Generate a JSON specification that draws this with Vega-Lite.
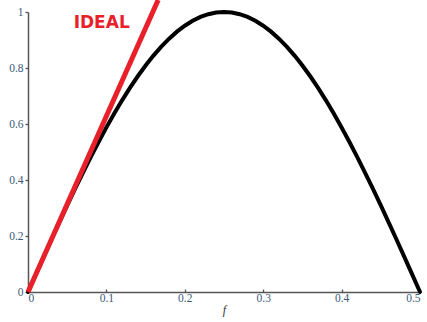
{
  "$schema": "https://vega.github.io/schema/vega-lite/v6.json",
  "width": 392,
  "height": 280,
  "autosize": "none",
  "padding": {"left": 28, "top": 12, "right": 7, "bottom": 30},
  "background": "white",
  "config": {"view": {"stroke": null}},
  "datasets": {
    "curve": [
      {"f": 0.00, "y": 0.0}, {"f": 0.01, "y": 0.0628}, {"f": 0.02, "y": 0.1253}, {"f": 0.03, "y": 0.1874},
      {"f": 0.04, "y": 0.2487}, {"f": 0.05, "y": 0.3090}, {"f": 0.06, "y": 0.3681}, {"f": 0.07, "y": 0.4258},
      {"f": 0.08, "y": 0.4818}, {"f": 0.09, "y": 0.5358}, {"f": 0.10, "y": 0.5878}, {"f": 0.11, "y": 0.6374},
      {"f": 0.12, "y": 0.6845}, {"f": 0.13, "y": 0.7290}, {"f": 0.14, "y": 0.7705}, {"f": 0.15, "y": 0.8090},
      {"f": 0.16, "y": 0.8443}, {"f": 0.17, "y": 0.8763}, {"f": 0.18, "y": 0.9048}, {"f": 0.19, "y": 0.9298},
      {"f": 0.20, "y": 0.9511}, {"f": 0.21, "y": 0.9686}, {"f": 0.22, "y": 0.9823}, {"f": 0.23, "y": 0.9921},
      {"f": 0.24, "y": 0.9980}, {"f": 0.25, "y": 1.0}, {"f": 0.26, "y": 0.9980}, {"f": 0.27, "y": 0.9921},
      {"f": 0.28, "y": 0.9823}, {"f": 0.29, "y": 0.9686}, {"f": 0.30, "y": 0.9511}, {"f": 0.31, "y": 0.9298},
      {"f": 0.32, "y": 0.9048}, {"f": 0.33, "y": 0.8763}, {"f": 0.34, "y": 0.8443}, {"f": 0.35, "y": 0.8090},
      {"f": 0.36, "y": 0.7705}, {"f": 0.37, "y": 0.7290}, {"f": 0.38, "y": 0.6845}, {"f": 0.39, "y": 0.6374},
      {"f": 0.40, "y": 0.5878}, {"f": 0.41, "y": 0.5358}, {"f": 0.42, "y": 0.4818}, {"f": 0.43, "y": 0.4258},
      {"f": 0.44, "y": 0.3681}, {"f": 0.45, "y": 0.3090}, {"f": 0.46, "y": 0.2487}, {"f": 0.47, "y": 0.1874},
      {"f": 0.48, "y": 0.1253}, {"f": 0.49, "y": 0.0628}, {"f": 0.50, "y": 0.0}
    ],
    "ideal": [
      {"f": 0.0, "y": 0.0}, {"f": 0.166, "y": 1.043}
    ],
    "label": [
      {"f": 0.094, "y": 0.962, "text": "IDEAL"}
    ]
  },
  "layer": [
    {
      "data": {"name": "curve"},
      "mark": {"type": "line", "color": "black", "strokeWidth": 4, "strokeCap": "round", "clip": false},
      "encoding": {
        "x": {
          "field": "f", "type": "quantitative",
          "scale": {"domain": [0, 0.5], "nice": false},
          "axis": {
            "values": [0, 0.05, 0.1, 0.15, 0.2, 0.25, 0.3, 0.35, 0.4, 0.45, 0.5],
            "labelExpr": "abs(round(datum.value * 100) % 10) == 5 ? '' : format(datum.value, '~g')",
            "title": "f",
            "titleFont": "Liberation Serif",
            "titleFontStyle": "italic",
            "titleFontWeight": "normal",
            "titleFontSize": 12,
            "titleColor": "#333333",
            "titlePadding": 1,
            "labelFont": "Liberation Serif",
            "labelFontSize": 11.5,
            "labelColor": "#3a5a78",
            "labelPadding": 3,
            "labelOverlap": false,
            "domainColor": "#555555",
            "domainWidth": 1.5,
            "tickColor": "#555555",
            "tickSize": -3,
            "tickWidth": 1.3,
            "grid": false
          }
        },
        "y": {
          "field": "y", "type": "quantitative",
          "scale": {"domain": [0, 1], "nice": false},
          "axis": {
            "values": [0, 0.1, 0.2, 0.3, 0.4, 0.5, 0.6, 0.7, 0.8, 0.9, 1],
            "labelExpr": "abs(round(datum.value * 10) % 2) == 1 ? '' : format(datum.value, '~g')",
            "title": null,
            "labelFont": "Liberation Serif",
            "labelFontSize": 11.5,
            "labelColor": "#3a5a78",
            "labelPadding": 2,
            "labelOverlap": false,
            "domainColor": "#555555",
            "domainWidth": 1.5,
            "tickColor": "#555555",
            "tickSize": 3,
            "tickWidth": 1.3,
            "grid": false
          }
        }
      }
    },
    {
      "data": {"name": "ideal"},
      "mark": {"type": "line", "color": "#e8202a", "strokeWidth": 5, "clip": false},
      "encoding": {
        "x": {"field": "f", "type": "quantitative"},
        "y": {"field": "y", "type": "quantitative"}
      }
    },
    {
      "data": {"name": "label"},
      "mark": {"type": "text", "color": "#e8202a", "font": "DejaVu Sans", "fontWeight": "bold", "fontSize": 17, "align": "center", "baseline": "middle"},
      "encoding": {
        "x": {"field": "f", "type": "quantitative"},
        "y": {"field": "y", "type": "quantitative"},
        "text": {"field": "text"}
      }
    }
  ]
}
